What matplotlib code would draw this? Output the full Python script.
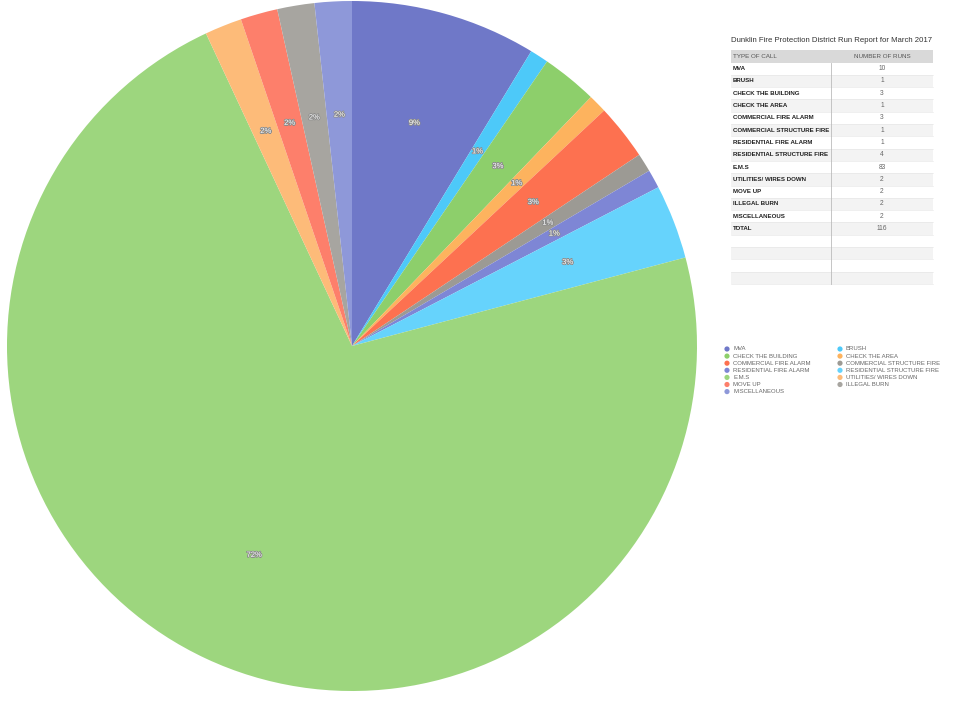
import matplotlib
matplotlib.use("Agg")
import matplotlib.pyplot as plt
import matplotlib.patheffects as pe
from matplotlib.patches import Rectangle

plt.rcParams['font.family'] = ['Liberation Sans', 'DejaVu Sans']

categories = ["MVA", "BRUSH", "CHECK THE BUILDING", "CHECK THE AREA",
              "COMMERCIAL FIRE ALARM", "COMMERCIAL STRUCTURE FIRE",
              "RESIDENTIAL FIRE ALARM", "RESIDENTIAL STRUCTURE FIRE",
              "E.M.S", "UTILITIES/ WIRES DOWN", "MOVE UP", "ILLEGAL BURN",
              "MISCELLANEOUS"]
runs = [10, 1, 3, 1, 3, 1, 1, 4, 83, 2, 2, 2, 2]
total_label = "116"
colors = ["#6F78C8", "#4DC9F9", "#8DCF6B", "#FDB35E", "#FD7150", "#9C9A94",
          "#7E86D5", "#66D3FC", "#9DD67E", "#FDBB79", "#FD7F6B", "#A7A5A0",
          "#8E98D9"]
title = "Dunklin Fire Protection District Run Report for March 2017"
col_headers = ["TYPE OF CALL", "NUMBER OF RUNS"]

fig = plt.figure(figsize=(9.6, 7.2), dpi=100)

# Overlay axes in pixel coordinates for table & legend
ax_t = fig.add_axes([0, 0, 1, 1])
ax_t.set_xlim(0, 960)
ax_t.set_ylim(720, 0)
ax_t.axis('off')

# Pie
ax = fig.add_axes([7/960, (720-691)/720, 690/960, 690/720])
wedges, texts, autotexts = ax.pie(
    runs, colors=colors, startangle=90, counterclock=False,
    autopct='%.0f%%', pctdistance=0.67,
    wedgeprops=dict(linewidth=0),
    textprops=dict(color='white', fontsize=5.5))
for t in autotexts:
    t.set_path_effects([pe.withStroke(linewidth=1.2, foreground='#8a8a8a')])
ax.set_xlim(-1, 1)
ax.set_ylim(-1, 1)
ax.set_aspect('equal')

# Table
x0, x1, xdiv = 731, 933, 831
ax_t.text((x0 + x1) / 2, 41, title, ha='center', va='center',
          fontsize=5.6, color='#333333')
row_h = 12.3
top = 49.5
rows = [(c, str(v)) for c, v in zip(categories, runs)] + [("TOTAL", total_label)]
rows += [("", "")] * 4
# header
ax_t.add_patch(Rectangle((x0, top), x1 - x0, 13, facecolor='#d9d9d9',
                         edgecolor='none'))
ax_t.text(x0 + 2, top + 6.5, col_headers[0], ha='left', va='center',
          fontsize=4.5, color='#555555')
ax_t.text((xdiv + x1) / 2, top + 6.5, col_headers[1], ha='center',
          va='center', fontsize=4.5, color='#555555')
y = top + 13
for i, (c, v) in enumerate(rows):
    fc = '#ffffff' if i % 2 == 0 else '#f3f3f3'
    ax_t.add_patch(Rectangle((x0, y), x1 - x0, row_h, facecolor=fc,
                             edgecolor='none'))
    ax_t.plot([x0, x1], [y + row_h, y + row_h], color='#e4e4e4', lw=0.4)
    if c:
        ax_t.text(x0 + 2, y + row_h / 2, c, ha='left', va='center',
                  fontsize=4.4, color='#222222', fontweight='bold')
        ax_t.text((xdiv + x1) / 2, y + row_h / 2, v, ha='center',
                  va='center', fontsize=4.8, color='#666666')
    y += row_h
ax_t.plot([xdiv, xdiv], [top + 13, y], color='#bbbbbb', lw=0.6)

# Legend
lx = [727, 840]
ly0, ldy = 349, 7.1
for i, (c, col) in enumerate(zip(categories, colors)):
    cx = lx[i % 2]
    cy = ly0 + (i // 2) * ldy
    ax_t.scatter([cx], [cy], s=14, color=col, edgecolors='none')
    ax_t.text(cx + 6, cy, c, ha='left', va='center', fontsize=4.3,
              color='#666666')

fig.savefig("out.png", dpi=100)
